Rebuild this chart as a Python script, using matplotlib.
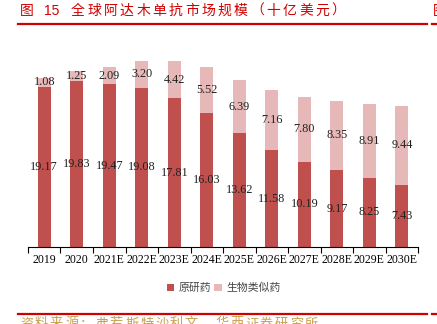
import matplotlib.pyplot as plt
import numpy as np

plt.rcParams['font.family'] = ['Noto Sans CJK SC', 'DejaVu Sans']

years = ['2019', '2020', '2021E', '2022E', '2023E', '2024E',
         '2025E', '2026E', '2027E', '2028E', '2029E', '2030E']
original = [19.17, 19.83, 19.47, 19.08, 17.81, 16.03,
            13.62, 11.58, 10.19, 9.17, 8.25, 7.43]
biosimilar = [1.08, 1.25, 2.09, 3.20, 4.42, 5.52,
              6.39, 7.16, 7.80, 8.35, 8.91, 9.44]
series_names = ['原研药', '生物类似药']
title = '图 15 全球阿达木单抗市场规模（十亿美元）'
source = '资料来源：弗若斯特沙利文，华西证券研究所'

dark = '#C0504D'
light = '#E6B9B8'
red = '#D00000'

fig = plt.figure(figsize=(4.37, 3.24), dpi=100)
ax = fig.add_axes([0.064, 0.238, 0.893, 0.639])

x = np.arange(len(years))
b1 = ax.bar(x, original, width=0.4, color=dark, label=series_names[0])
b2 = ax.bar(x, biosimilar, width=0.4, bottom=original, color=light,
            label=series_names[1])

serif = ['Liberation Serif', 'DejaVu Serif']
for xi, o, b in zip(x, original, biosimilar):
    ax.text(xi, o / 2, f'{o:.2f}', ha='center', va='center',
            fontsize=8.8, family=serif, color='#222222')
    ax.text(xi, o + b / 2, f'{b:.2f}', ha='center', va='center',
            fontsize=8.8, family=serif, color='#222222')

ax.set_xlim(-0.5, len(years) - 0.5)
ax.set_ylim(0, 24.8)
ax.set_xticks(x)
ax.set_xticklabels(years, family=serif, fontsize=8.5)
ax.tick_params(axis='x', which='major', length=0, pad=5)
ax.set_xticks(np.arange(-0.5, len(years)), minor=True)
ax.tick_params(axis='x', which='minor', length=4, width=0.8, direction='out')
ax.set_yticks([])
for s in ['left', 'right', 'top']:
    ax.spines[s].set_visible(False)
ax.spines['bottom'].set_linewidth(0.8)

# legend
fig.legend(handles=[b1, b2], loc='center', bbox_to_anchor=(0.512, 0.111),
           ncol=2, frameon=False, fontsize=7.8, handlelength=0.7,
           handleheight=0.7, handletextpad=0.4, columnspacing=0.3,
           labelcolor='#444444')

# title, drawn with wide letter spacing
ty = 1 - 11 / 324
fig.text(20 / 437, ty, '图', color=red, fontsize=10, va='center')
fig.text(44 / 437, ty, '15', color=red, fontsize=10, va='center',
         family=['Liberation Sans', 'DejaVu Sans'])
for i, ch in enumerate(title.split(' ', 2)[2]):
    fig.text((71 + i * 16.3) / 437, ty, ch, color=red,
             fontsize=10, va='center')
fig.text(433 / 437, ty, '图', color=red, fontsize=10, va='center')

for ly in (24, 314):
    fig.add_artist(plt.Line2D([18 / 437, 427 / 437], [1 - ly / 324] * 2,
                              color=red, lw=1.6))
    fig.add_artist(plt.Line2D([432 / 437, 1], [1 - ly / 324] * 2,
                              color=red, lw=1.6))

for i, ch in enumerate(source):
    fig.text((20 + i * 15) / 437, 1 - 324 / 324, ch, color='#C8A050',
             fontsize=9.5, va='center')

fig.savefig('out.png', dpi=100)
